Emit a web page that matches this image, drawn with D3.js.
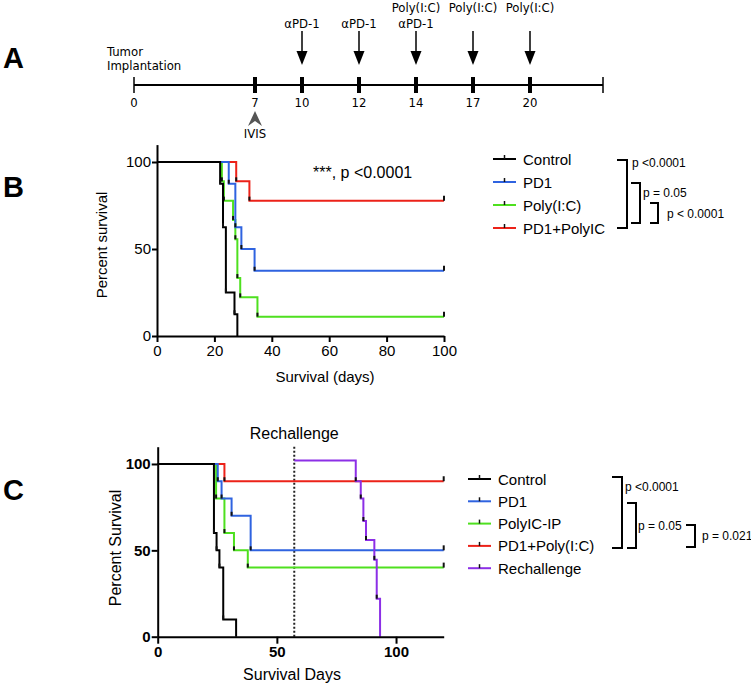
<!DOCTYPE html>
<html>
<head>
<meta charset="utf-8">
<script src="https://cdn.jsdelivr.net/npm/d3@7"></script>
<style>
body { margin: 0; background: #fff; }
svg { font-family: "Liberation Sans", Arial, sans-serif; }
.narrow { font-family: "Liberation Sans Narrow", "Arial Narrow", "DejaVu Sans Condensed", sans-serif; }
</style>
</head>
<body>
<div id="viz"></div>
<script>
// panel A - treatment schedule
var timelineDays = [0, 7, 10, 12, 14, 17, 20];
var pd1Days = [10, 12, 14];
var polyDays = [14, 17, 20];
var imagingDay = 7;

// panel B - survival steps, [day, percent]
var bControl = [[0, 100], [22, 87.5], [23, 62.5], [24, 25], [27, 12.5], [28, 0]];
var bPD1 = [[0, 100], [25, 87.5], [27.3, 62.5], [29.4, 50], [34, 37.5], [100, 37.5]];
var bPoly = [[0, 100], [22.6, 88.9], [23.3, 77.8], [26.5, 66.7], [27.3, 55.6], [28, 33.3], [29, 22.2], [35, 11.1], [100, 11.1]];
var bCombo = [[0, 100], [27.6, 88.9], [32.2, 77.8], [100, 77.8]];
var bNames = ["Control", "PD1", "Poly(I:C)", "PD1+PolyIC"];
var bPvalues = ["p <0.0001", "p = 0.05", "p < 0.0001"];
var bXTicks = [0, 20, 40, 60, 80, 100];

// panel C
var cControl = [[0, 100], [23.6, 60], [24.7, 50], [25.9, 40], [27.5, 10], [32.9, 0]];
var cPD1 = [[0, 100], [25.2, 90], [26.8, 80], [31, 70], [39, 50], [120, 50]];
var cPoly = [[0, 100], [24.5, 80], [28, 60], [32, 50], [37.8, 40], [120, 40]];
var cCombo = [[0, 100], [28, 90], [120, 90]];
var cRechallenge = [[57.3, 102], [83.1, 90], [85.2, 80], [86.3, 67], [87.4, 56], [90.9, 44.5], [91.9, 22], [93.3, 0]];
var rechallengeDay = 57.3;
var cNames = ["Control", "PD1", "PolyIC-IP", "PD1+Poly(I:C)", "Rechallenge"];
var cPvalues = ["p <0.0001", "p = 0.05", "p = 0.021"];
var cXTicks = [0, 50, 100];

var yTicks = [0, 50, 100];

var BLACK = "#000", BLUE = "#2f63e0", GREEN = "#4ee01f", RED = "#ec2219", PURPLE = "#8c2fe6";

var svg = d3.select("#viz")
    .append("svg")
    .attr("width", 751)
    .attr("height", 683);

function panelLabel(t, x, y) {
    svg.append("text").attr("x", x).attr("y", y)
        .attr("font-size", 29).attr("font-weight", "bold").text(t);
}

// ---------- A ----------
panelLabel("A", 3, 68);

var tl = d3.scaleLinear()
    .domain([0, 1, 2, 6, 7])
    .range([134, 255, 302, 530, 603]);
var tlY = 85;
var dayX = function(d) { return tl(timelineDays.indexOf(d)); };

var gA = svg.append("g").attr("class", "narrow");
gA.append("line").attr("x1", tl(0)).attr("x2", tl(7))
    .attr("y1", tlY).attr("y2", tlY).attr("stroke", BLACK).attr("stroke-width", 2);
[0, 7].forEach(function(i) {
    gA.append("line").attr("x1", tl(i)).attr("x2", tl(i))
        .attr("y1", tlY - 8).attr("y2", tlY + 8).attr("stroke", BLACK).attr("stroke-width", 1.5);
});
gA.selectAll("rect.tick").data(timelineDays.slice(1)).enter().append("rect")
    .attr("x", function(d) { return dayX(d) - 2; })
    .attr("y", tlY - 8).attr("width", 4).attr("height", 16).attr("fill", BLACK);
gA.selectAll("text.day").data(timelineDays).enter().append("text")
    .attr("x", dayX).attr("y", tlY + 22)
    .attr("text-anchor", "middle").attr("font-size", 13).text(function(d) { return d; });

gA.append("text").attr("x", 107).attr("y", 56).attr("font-size", 13).text("Tumor");
gA.append("text").attr("x", 107).attr("y", 70).attr("font-size", 13).text("Implantation");

var treatDays = Array.from(new Set(pd1Days.concat(polyDays)));
treatDays.forEach(function(d) {
    var x = dayX(d);
    gA.append("line").attr("x1", x).attr("x2", x).attr("y1", 31).attr("y2", 55)
        .attr("stroke", BLACK).attr("stroke-width", 1.5);
    gA.append("path").attr("d", "M" + (x - 5.5) + ",51L" + (x + 5.5) + ",51L" + x + ",65Z").attr("fill", BLACK);
});
gA.selectAll("text.pd1").data(pd1Days).enter().append("text")
    .attr("x", dayX).attr("y", 28).attr("text-anchor", "middle").attr("font-size", 13)
    .text("\u03b1PD-1");
gA.selectAll("text.poly").data(polyDays).enter().append("text")
    .attr("x", dayX).attr("y", 12).attr("text-anchor", "middle").attr("font-size", 13)
    .text("Poly(I:C)");

var ix = dayX(imagingDay);
gA.append("path").attr("d", "M" + ix + ",111L" + (ix + 7) + ",126L" + ix + ",121L" + (ix - 7) + ",126Z")
    .attr("fill", "#555");
gA.append("text").attr("x", ix).attr("y", 138).attr("text-anchor", "middle").attr("font-size", 13).text("IVIS");

// ---------- survival helpers ----------
function styleAxis(g, bold) {
    g.attr("font-family", null).attr("font-size", 15)
        .attr("font-weight", bold ? "bold" : null);
    g.selectAll("path, line").attr("stroke", BLACK).attr("stroke-width", 2);
    g.selectAll("text").attr("fill", BLACK);
}

function drawCurve(g, data, color, x, y) {
    var line = d3.line().curve(d3.curveStepAfter)
        .x(function(d) { return x(d[0]); })
        .y(function(d) { return y(d[1]); });
    g.append("path").datum(data).attr("d", line)
        .attr("fill", "none").attr("stroke", color).attr("stroke-width", 2);
    // small marks at each step
    var marks = data.filter(function(d, i) { return i > 0 && d[1] < data[i - 1][1] && d[1] > 0; });
    g.selectAll(null).data(marks).enter().append("line")
        .attr("x1", function(d) { return x(d[0]); }).attr("x2", function(d) { return x(d[0]); })
        .attr("y1", function(d) { return y(d[1]) - 4; }).attr("y2", function(d) { return y(d[1]); })
        .attr("stroke", "#111").attr("stroke-width", 2);
    var last = data[data.length - 1], prev = data[data.length - 2];
    if (last[1] === prev[1]) {
        g.append("line").attr("x1", x(last[0])).attr("x2", x(last[0]))
            .attr("y1", y(last[1]) - 5).attr("y2", y(last[1]))
            .attr("stroke", "#111").attr("stroke-width", 2);
    }
}

function drawLegend(names, colors, x0, y0, step) {
    var g = svg.append("g");
    names.forEach(function(n, i) {
        var y = y0 + i * step;
        g.append("line").attr("x1", x0).attr("x2", x0 + 23).attr("y1", y).attr("y2", y)
            .attr("stroke", colors[i]).attr("stroke-width", 2);
        g.append("line").attr("x1", x0 + 11.5).attr("x2", x0 + 11.5).attr("y1", y - 4).attr("y2", y)
            .attr("stroke", "#111").attr("stroke-width", 1.5);
        g.append("text").attr("x", x0 + 30).attr("y", y + 5.5).attr("font-size", 15).text(n);
    });
}

function drawBracket(b, label) {
    svg.append("path")
        .attr("d", "M" + b.x0 + "," + b.y0 + "H" + b.x1 + "V" + b.y1 + "H" + b.x0)
        .attr("fill", "none").attr("stroke", BLACK).attr("stroke-width", 2);
    svg.append("text").attr("x", b.tx).attr("y", b.ty).attr("font-size", 12).text(label);
}

// ---------- B ----------
panelLabel("B", 3, 197);
var xB = d3.scaleLinear().domain([0, 100]).range([157, 444]);
var yB = d3.scaleLinear().domain([0, 110]).range([336, 144.6]);
var gB = svg.append("g");

[[bCombo, RED], [bPoly, GREEN], [bPD1, BLUE], [bControl, BLACK]].forEach(function(s) {
    drawCurve(gB, s[0], s[1], xB, yB);
});

var axB = gB.append("g").attr("transform", "translate(0," + yB(0) + ")")
    .call(d3.axisBottom(xB).tickValues(bXTicks).tickSize(6).tickSizeOuter(0).tickPadding(3));
styleAxis(axB, false);
var ayB = gB.append("g").attr("transform", "translate(" + xB(0) + ",0)")
    .call(d3.axisLeft(yB).tickValues(yTicks).tickSize(5).tickSizeOuter(0).tickPadding(1));
styleAxis(ayB, false);

gB.append("text").attr("x", 325).attr("y", 382).attr("text-anchor", "middle")
    .attr("font-size", 15).text("Survival (days)");
gB.append("text").attr("transform", "translate(107,245) rotate(-90)")
    .attr("text-anchor", "middle").attr("font-size", 15).text("Percent survival");
gB.append("text").attr("x", 313).attr("y", 178).attr("font-size", 16).text("***, p <0.0001");

drawLegend(bNames, [BLACK, BLUE, GREEN, RED], 493, 159, 23);
drawBracket({x0: 617, x1: 627, y0: 160, y1: 228, tx: 632, ty: 167}, bPvalues[0]);
drawBracket({x0: 631, x1: 640, y0: 183, y1: 223, tx: 643, ty: 197}, bPvalues[1]);
drawBracket({x0: 650, x1: 658, y0: 203, y1: 223, tx: 667, ty: 218}, bPvalues[2]);

// ---------- C ----------
panelLabel("C", 3, 500);
var xC = d3.scaleLinear().domain([0, 120]).range([157.7, 443.7]);
var yC = d3.scaleLinear().domain([0, 110]).range([636.7, 446.7]);
var gC = svg.append("g");

gC.append("line").attr("x1", xC(rechallengeDay)).attr("x2", xC(rechallengeDay))
    .attr("y1", yC(110)).attr("y2", yC(0))
    .attr("stroke", "#222").attr("stroke-width", 2).attr("stroke-dasharray", "2,2");

[[cCombo, RED], [cPoly, GREEN], [cPD1, BLUE], [cControl, BLACK], [cRechallenge, PURPLE]].forEach(function(s) {
    drawCurve(gC, s[0], s[1], xC, yC);
});

var axC = gC.append("g").attr("transform", "translate(0," + yC(0) + ")")
    .call(d3.axisBottom(xC).tickValues(cXTicks).tickSize(7).tickSizeOuter(0).tickPadding(3));
styleAxis(axC, true);
var ayC = gC.append("g").attr("transform", "translate(" + xC(0) + ",0)")
    .call(d3.axisLeft(yC).tickValues(yTicks).tickSize(6).tickSizeOuter(0).tickPadding(1));
styleAxis(ayC, true);

gC.append("text").attr("x", 292).attr("y", 680).attr("text-anchor", "middle")
    .attr("font-size", 16).text("Survival Days");
gC.append("text").attr("transform", "translate(121,548) rotate(-90)")
    .attr("text-anchor", "middle").attr("font-size", 16).text("Percent Survival");
gC.append("text").attr("x", xC(rechallengeDay)).attr("y", 439).attr("text-anchor", "middle")
    .attr("font-size", 16).text("Rechallenge");

drawLegend(cNames, [BLACK, BLUE, GREEN, RED, PURPLE], 468, 479, 22.3);
drawBracket({x0: 612, x1: 622, y0: 477, y1: 548, tx: 625, ty: 491}, cPvalues[0]);
drawBracket({x0: 627, x1: 636, y0: 503, y1: 548, tx: 638, ty: 530}, cPvalues[1]);
drawBracket({x0: 686, x1: 695, y0: 525, y1: 547, tx: 702, ty: 540}, cPvalues[2]);
</script>
</body>
</html>
